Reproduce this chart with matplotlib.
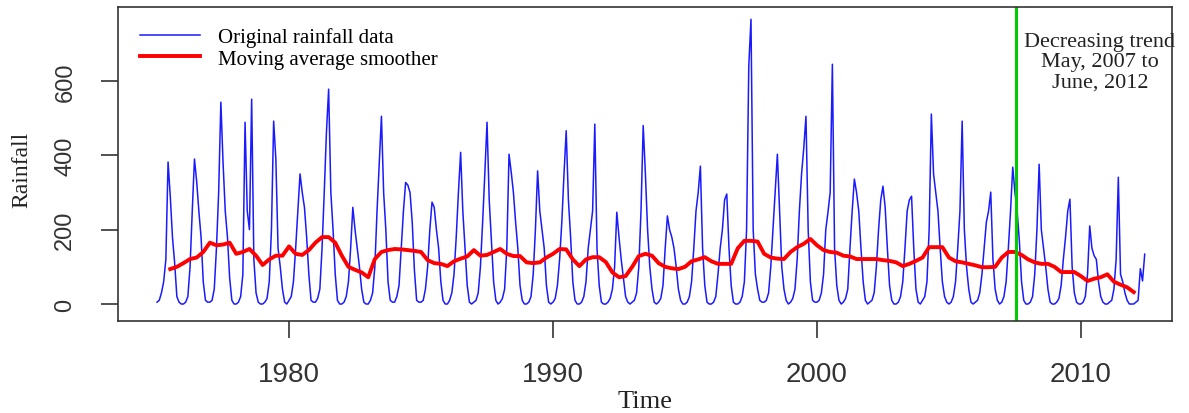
import numpy as np
import matplotlib
matplotlib.use("Agg")
import matplotlib.pyplot as plt

# monthly rainfall, Jan..Dec
rain_1975 = [5, 10, 30, 60, 120, 382, 290, 180, 110, 20, 5, 0]
rain_1976 = [0, 5, 20, 100, 250, 390, 330, 250, 180, 60, 10, 5]
rain_1977 = [5, 10, 40, 150, 300, 543, 380, 250, 180, 70, 10, 0]
rain_1978 = [0, 5, 20, 80, 489, 250, 200, 551, 120, 30, 5, 0]
rain_1979 = [0, 5, 15, 60, 200, 492, 390, 150, 100, 40, 5, 0]
rain_1980 = [10, 20, 60, 150, 250, 350, 300, 260, 180, 80, 10, 5]
rain_1981 = [5, 15, 40, 150, 300, 462, 578, 300, 200, 80, 10, 0]
rain_1982 = [0, 5, 20, 60, 150, 260, 200, 150, 100, 40, 5, 0]
rain_1983 = [0, 10, 30, 100, 250, 380, 505, 300, 200, 60, 10, 5]
rain_1984 = [5, 20, 50, 150, 250, 327, 320, 300, 220, 90, 10, 5]
rain_1985 = [5, 10, 40, 100, 200, 274, 260, 200, 150, 60, 10, 0]
rain_1986 = [0, 10, 30, 80, 180, 300, 408, 250, 150, 50, 5, 0]
rain_1987 = [5, 10, 30, 100, 220, 350, 489, 280, 170, 60, 10, 0]
rain_1988 = [5, 15, 40, 150, 403, 355, 300, 220, 150, 50, 10, 0]
rain_1989 = [0, 5, 20, 80, 200, 358, 250, 200, 150, 50, 5, 0]
rain_1990 = [5, 15, 50, 120, 220, 350, 466, 280, 180, 60, 10, 0]
rain_1991 = [0, 5, 20, 60, 150, 200, 250, 484, 150, 50, 5, 0]
rain_1992 = [0, 5, 15, 40, 100, 247, 180, 120, 70, 20, 5, 0]
rain_1993 = [5, 10, 30, 100, 250, 480, 350, 200, 100, 40, 5, 0]
rain_1994 = [5, 15, 50, 150, 237, 200, 180, 150, 100, 40, 10, 0]
rain_1995 = [0, 5, 20, 60, 150, 250, 300, 371, 150, 50, 5, 0]
rain_1996 = [0, 5, 20, 80, 150, 200, 280, 296, 150, 50, 5, 0]
rain_1997 = [0, 5, 20, 60, 200, 640, 766, 200, 80, 40, 10, 5]
rain_1998 = [5, 10, 30, 100, 200, 300, 403, 250, 100, 40, 10, 0]
rain_1999 = [5, 15, 40, 120, 250, 350, 420, 505, 200, 60, 10, 5]
rain_2000 = [5, 10, 30, 80, 200, 247, 300, 645, 150, 50, 10, 0]
rain_2001 = [5, 15, 40, 150, 250, 336, 300, 250, 150, 60, 10, 0]
rain_2002 = [5, 10, 30, 100, 200, 280, 317, 260, 150, 50, 10, 0]
rain_2003 = [0, 5, 20, 60, 150, 250, 280, 290, 150, 40, 5, 0]
rain_2004 = [10, 20, 60, 200, 511, 350, 300, 250, 150, 60, 20, 5]
rain_2005 = [0, 5, 20, 60, 150, 250, 492, 200, 100, 40, 5, 0]
rain_2006 = [5, 10, 30, 80, 150, 220, 250, 301, 120, 40, 10, 0]
rain_2007 = [5, 20, 60, 150, 250, 368, 300, 250, 170, 60, 10, 0]
rain_2008 = [0, 5, 20, 80, 200, 376, 200, 150, 100, 40, 5, 0]
rain_2009 = [0, 5, 15, 50, 120, 180, 250, 282, 100, 30, 5, 0]
rain_2010 = [0, 5, 20, 80, 210, 150, 130, 120, 60, 20, 5, 0]
rain_2011 = [0, 5, 10, 40, 120, 341, 80, 60, 30, 10, 0, 0]
rain_2012 = [0, 5, 10, 95, 62, 134]  # Jan..Jun

start_year = 1975

# moving average smoother, quarterly readings from mid-1975
ma_start = 1975.5
ma_values = [
    94, 100, 110, 121, 125, 140, 165, 158, 160, 165, 135, 140, 148, 130,
    105, 120, 130, 130, 155, 135, 132, 145, 165, 180, 180, 165, 130, 100,
    92, 85, 72, 121, 140, 145, 148, 147, 145, 143, 140, 118, 110, 108,
    102, 115, 122, 128, 145, 130, 132, 140, 148, 135, 129, 129, 112, 110,
    112, 125, 135, 148, 147, 120, 102, 120, 126, 126, 113, 85, 72, 75,
    100, 129, 135, 130, 110, 100, 96, 94, 100, 115, 120, 126, 115, 108,
    108, 108, 150, 170, 170, 168, 135, 125, 122, 121, 140, 153, 162, 175,
    158, 145, 140, 138, 130, 128, 121, 121, 121, 121, 118, 116, 112, 102,
    108, 116, 125, 153, 153, 153, 125, 115, 112, 108, 104, 99, 99, 100,
    125, 140, 140, 132, 120, 112, 108, 108, 100, 86, 86, 86, 75, 62,
    68, 72, 80, 60, 52, 45, 32,
]

trend_start = 2007.55
note = "Decreasing trend\nMay, 2007 to\nJune, 2012"

rainfall = np.concatenate([
    rain_1975, rain_1976, rain_1977, rain_1978, rain_1979, rain_1980,
    rain_1981, rain_1982, rain_1983, rain_1984, rain_1985, rain_1986,
    rain_1987, rain_1988, rain_1989, rain_1990, rain_1991, rain_1992,
    rain_1993, rain_1994, rain_1995, rain_1996, rain_1997, rain_1998,
    rain_1999, rain_2000, rain_2001, rain_2002, rain_2003, rain_2004,
    rain_2005, rain_2006, rain_2007, rain_2008, rain_2009, rain_2010,
    rain_2011, rain_2012,
])
t = start_year + np.arange(len(rainfall)) / 12.0
t_ma = ma_start + 0.25 * np.arange(len(ma_values))

W, H = 1189, 414
fig = plt.figure(figsize=(W / 100, H / 100), dpi=100)
ax = fig.add_axes([118 / W, 1 - 322 / H, (1172 - 118) / W, (322 - 8) / H])

ax.plot(t, rainfall, color="#1a1aff", lw=1.1, label="Original rainfall data")
ax.plot(t_ma, ma_values, color="#ff0000", lw=2.8, label="Moving average smoother")
ax.axvline(trend_start, color="#00cc00", lw=2.2)

ax.set_xlim(1973.52, 2013.45)
ax.set_ylim(-45.7, 799)
ax.set_xticks([1980, 1990, 2000, 2010])
ax.set_yticks([0, 200, 400, 600])

sans = "Liberation Sans"
serif = "Liberation Serif"
ax.tick_params(axis="x", length=12, width=1.2, pad=17, labelsize=20,
               colors="#333333", labelcolor="#333333")
ax.tick_params(axis="y", length=12, width=1.2, pad=18, labelsize=17,
               colors="#333333", labelcolor="#333333")
for lab in ax.get_xticklabels():
    lab.set_family(sans)
for lab in ax.get_yticklabels():
    lab.set_family(sans)
    lab.set_rotation(90)
    lab.set_va("center")
for s in ax.spines.values():
    s.set_color("#333333")
    s.set_linewidth(1.2)

fig.text(645 / W, 1 - 402 / H, "Time", family=serif, fontsize=19,
         ha="center", va="center", color="#222222")
fig.text(22 / W, 1 - 170 / H, "Rainfall", family=serif, fontsize=17,
         rotation=90, ha="center", va="center", color="#222222")

ax.legend(loc="upper left", bbox_to_anchor=(22 / 1054, 1 - 20 / 314),
          frameon=False, prop={"family": serif, "size": 15},
          handlelength=2.9, handletextpad=0.85, labelspacing=0.1,
          borderpad=0, borderaxespad=0)

fig.text(1100 / W, 1 - 63 / H, note, family=serif, fontsize=16,
         ha="center", va="center", linespacing=1.1, color="#222222")

fig.savefig("out.png", dpi=100)
